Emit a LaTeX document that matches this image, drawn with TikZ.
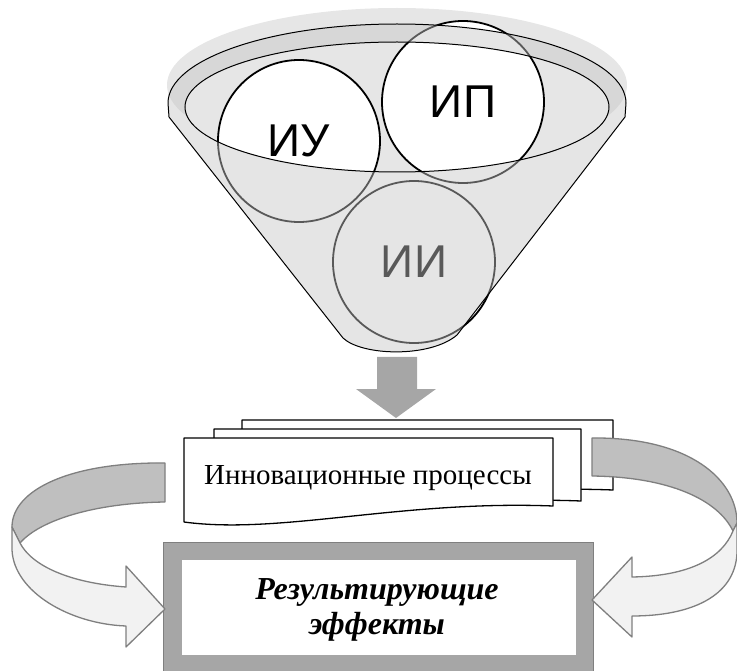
\documentclass[tikz,border=0pt]{standalone}
\usepackage{fontspec}
\setmainfont{Liberation Serif}
\newfontfamily\arialf{Liberation Sans}
\definecolor{shadowgray}{HTML}{E6E6E6}
\definecolor{covergray}{HTML}{C6C6C6}
\definecolor{arrowgray}{HTML}{A6A6A6}
\definecolor{banddark}{HTML}{BFBFBF}
\definecolor{bandlight}{HTML}{F2F2F2}
\definecolor{bandline}{HTML}{7F7F7F}
\begin{document}
\begin{tikzpicture}[x=1pt,y=-1pt,
  bubble/.style={circle,draw=black,line width=1.8pt,fill=white,minimum size=162pt,inner sep=0pt,font=\arialf\fontsize{46}{50}\selectfont},
  docbox/.style={draw=black,line width=1.3pt,fill=white,line join=round},
  band/.style={draw=bandline,line width=1.3pt,line join=round}]
\useasboundingbox (0,0) rectangle (737,671);

% ---- funnel ----
\fill[shadowgray] (397,85) ellipse [x radius=230, y radius=77];
\fill[shadowgray] (397,107) ellipse [x radius=212, y radius=65];
\node[bubble] (iu) at (299,141) {ИУ};
\node[bubble] (ip) at (463,102) {ИП};
\node[bubble] (ii) at (414,262) {ИИ};
\fill[covergray,opacity=0.45,even odd rule]
  (168,103) arc[start angle=180,end angle=360,x radius=229,y radius=79]
  -- (625,117) -- (457,335) .. controls (430,358) and (362,356) .. (343,338)
  -- (169,117) -- cycle
  (397,107) ellipse [x radius=212, y radius=65];
\draw[black,line width=1pt,line join=round]
  (168,103) arc[start angle=180,end angle=360,x radius=229,y radius=79]
  -- (625,117) -- (457,335) .. controls (430,358) and (362,356) .. (343,338)
  -- (169,117) -- cycle;
\draw[black,line width=1pt] (397,107) ellipse [x radius=212, y radius=65];

% ---- down arrow ----
\fill[arrowgray] (377,357) -- (417,357) -- (417,389) -- (436,389) -- (396,418)
  -- (356,389) -- (377,389) -- cycle;

% ---- documents ----
\draw[docbox] (242,420) -- (613,420) -- (613,490)
  .. controls (460,484) and (340,516) .. (242,505) -- cycle;
\draw[docbox] (214,429) -- (581,429) -- (581,501)
  .. controls (430,495) and (310,527) .. (214,515) -- cycle;
\draw[docbox] (184,438) -- (553,438) -- (553,506)
  .. controls (400,500) and (280,535) .. (184,522) -- cycle;
\node[font=\fontsize{29}{33}\selectfont] (proc) at (368,478) {Инновационные процессы};

% ---- result box ----
\draw[fill=arrowgray,draw=bandline,line width=1pt] (163,542) rectangle (593,674);
\draw[fill=white,draw=gray!70,line width=0.8pt] (181,559) rectangle (576,655);
\node[font=\bfseries\itshape\fontsize{32}{35}\selectfont,align=center] (res) at (377,610)
  {Результирующие\\эффекты};

% ---- left curved arrow ----
\draw[band,fill=banddark] (165,463) .. controls (70,462) and (12,490) .. (12,527)
  -- (20,543) .. controls (40,520) and (95,503) .. (165,502) -- cycle;
\draw[band,fill=bandlight] (12,527) -- (12,550)
  .. controls (14,592) and (70,624) .. (126,626)
  -- (126,647) -- (165,609) -- (126,566) -- (126,587)
  .. controls (70,583) and (32,566) .. (20,543) -- cycle;

% ---- right curved arrow ----
\draw[band,fill=banddark] (592,438) .. controls (690,437) and (737,480) .. (737,523)
  -- (733,531) .. controls (718,500) and (670,477) .. (592,476) -- cycle;
\draw[band,fill=bandlight] (737,523) -- (737,553)
  .. controls (735,597) and (690,616) .. (632,616)
  -- (632,637) -- (592,600) -- (632,557) -- (632,577)
  .. controls (690,576) and (722,558) .. (733,531) -- cycle;
\end{tikzpicture}
\end{document}
